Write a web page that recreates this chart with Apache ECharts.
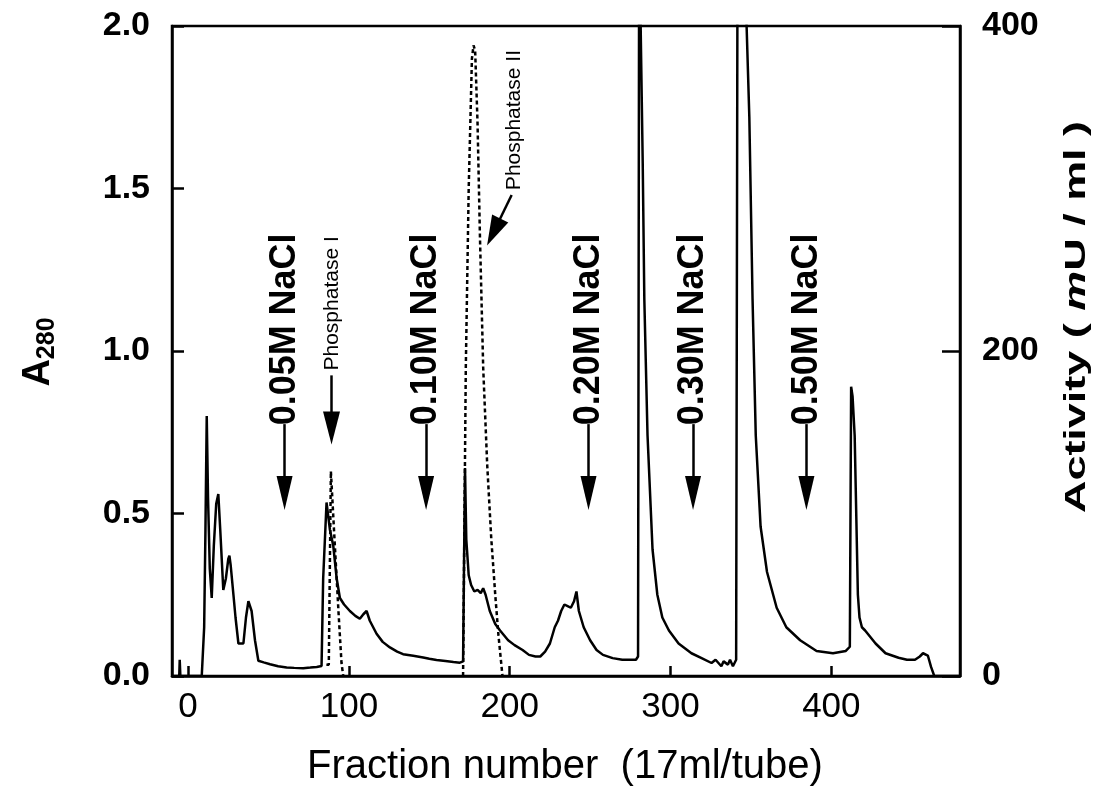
<!DOCTYPE html>
<html>
<head>
<meta charset="utf-8">
<script src="https://cdn.jsdelivr.net/npm/echarts@6/dist/echarts.min.js"></script>
<style>
  html, body { margin: 0; padding: 0; background: #fff; }
  #chart { width: 1104px; height: 791px; }
</style>
</head>
<body>
<div id="chart"></div>
<script>
// Elution profile: fraction number and absorbance at 280 nm
const a280Fraction = [
  -10, -5.5, -5.2, -4.8, 8.5, 10, 10.8, 11.6, 12.4, 13.5, 14.7, 16, 17.5, 18.8, 20, 21.9,
  23.5, 25, 25.7, 26.5, 28.2, 29.5, 31.3, 34.4, 36, 37.5, 39.5, 41.6, 43.7, 47, 51, 56,
  61.3, 66, 71.6, 76, 80, 83, 84, 86.1, 88.2, 90.3, 92.4, 94.4, 97, 100.6, 104, 106.8,
  109, 111, 113, 117.2, 121, 125.5, 130, 133.7, 140, 146.2, 150, 154.5, 160, 165, 169,
  171, 171.6, 172.2, 173, 174.5, 176, 178, 180, 182, 183.5, 185, 187.6, 191, 194, 199,
  203, 208, 212, 216, 219, 222, 225, 228, 230, 232, 234, 236, 238, 240, 241.5, 243, 246,
  250, 254, 258, 264, 270, 275, 278.5, 279.8, 280.5, 282.7, 283.7, 285.7, 288.8, 291.8,
  294.9, 299, 305, 313, 319, 325.5, 328, 331.6, 333, 335.7, 337, 338.8, 340.8, 341.8,
  347, 349, 351, 353, 356, 360, 366, 372, 380.6, 390.8, 401, 409, 411.5, 412.3, 413.2,
  414.5, 416.5, 417.5, 419, 421, 427.5, 433.7, 441.8, 447, 452, 455, 457, 460, 462, 464, 480
];
const a280Value = [
  0, 0, 0.05, 0, 0, 0.15, 0.45, 0.80, 0.55, 0.33, 0.24, 0.40, 0.53, 0.56, 0.45, 0.265,
  0.30, 0.36, 0.37, 0.34, 0.25, 0.18, 0.10, 0.10, 0.18, 0.23, 0.20, 0.11, 0.047, 0.042, 0.036, 0.03,
  0.026, 0.025, 0.024, 0.026, 0.028, 0.031, 0.30, 0.534, 0.45, 0.40, 0.30, 0.24, 0.22, 0.20, 0.185, 0.176,
  0.19, 0.20, 0.17, 0.13, 0.105, 0.088, 0.075, 0.067, 0.062, 0.057, 0.053, 0.049, 0.046, 0.043, 0.041,
  0.045, 0.35, 0.64, 0.42, 0.31, 0.28, 0.26, 0.265, 0.255, 0.27, 0.25, 0.20, 0.16, 0.14, 0.11,
  0.095, 0.08, 0.065, 0.06, 0.06, 0.075, 0.10, 0.15, 0.17, 0.20, 0.22, 0.215, 0.21, 0.23, 0.26, 0.20, 0.15,
  0.11, 0.08, 0.065, 0.055, 0.05, 0.05, 0.05, 0.06, 2.3, 1.58, 1.16, 0.74, 0.39, 0.25,
  0.18, 0.14, 0.10, 0.07, 0.056, 0.04, 0.05, 0.03, 0.045, 0.035, 0.05, 0.03, 0.05, 2.6,
  2.05, 1.72, 1.16, 0.74, 0.46, 0.32, 0.21, 0.15, 0.11, 0.077, 0.07, 0.077, 0.09, 0.89, 0.86,
  0.74, 0.25, 0.18, 0.15, 0.14, 0.10, 0.07, 0.056, 0.05, 0.05, 0.06, 0.07, 0.063, 0.028, 0, 0
];

// Phosphatase activity (mU/ml) across the two active pools
const phosIFraction = [86, 87.5, 88.8, 91, 93.5, 95.4, 96.5, 96.5];
const phosIActivity = [7, 7, 126, 85, 40, 8, 7, 0];
const phosIIFraction = [171, 172.7, 174.5, 176.5, 177.5, 178.5, 180, 181.5, 183.5, 186, 188.5, 191, 193, 195.5];
const phosIIActivity = [0, 190, 300, 380, 388, 385, 340, 270, 190, 130, 85, 50, 25, 0];

// Step-gradient marks: label, fraction where the step starts
const saltSteps = ['0.05M NaCl', '0.10M NaCl', '0.20M NaCl', '0.30M NaCl', '0.50M NaCl'];
const saltStepFraction = [60, 148, 249, 314, 384.5];

// Axis tick values
const fractionTicks = [0, 100, 200, 300, 400];

const FONT = '"Liberation Sans", Arial, Helvetica, sans-serif';
const pairs = (xs, ys) => xs.map((x, i) => [x, ys[i]]);

// Arrow geometry in data units (A280 axis)
const arrowTop = 0.775, arrowHeadCenter = 0.563;
const markLines = saltStepFraction.map(f => [
  { coord: [f, arrowTop], symbol: 'none' },
  { coord: [f, arrowHeadCenter], symbol: 'triangle', symbolSize: [16, 34] }
]);
markLines.push([
  { coord: [89.2, 0.925], symbol: 'none' },
  { coord: [89.2, 0.763], symbol: 'triangle', symbolSize: [17, 33] }
]);
markLines.push([
  { coord: [201.2, 1.48], symbol: 'none' },
  { coord: [190, 1.366], symbol: 'triangle', symbolSize: [18, 30] }
]);

const chart = echarts.init(document.getElementById('chart'), null, { renderer: 'canvas' });

const axisLineStyle = { color: '#000', width: 2.5 };

const option = {
  animation: false,
  backgroundColor: '#fff',
  grid: {
    left: 172, top: 26, right: 144, bottom: 115,
    show: true, borderColor: '#000', borderWidth: 2.5
  },
  xAxis: {
    type: 'value', min: -10, max: 480,
    axisLine: { show: true, onZero: false, lineStyle: axisLineStyle },
    axisTick: { show: true, inside: true, length: 10, lineStyle: axisLineStyle, customValues: fractionTicks },
    axisLabel: {
      customValues: fractionTicks, margin: 14,
      color: '#000', fontFamily: FONT, fontSize: 35
    },
    splitLine: { show: false }
  },
  yAxis: [
    {
      type: 'value', min: 0, max: 2, interval: 0.5, position: 'left',
      axisLine: { show: true, onZero: false, lineStyle: axisLineStyle },
      axisTick: { show: true, inside: true, length: 12, lineStyle: axisLineStyle },
      axisLabel: {
        margin: 22, color: '#000', fontFamily: FONT, fontSize: 34, fontWeight: 'bold',
        formatter: v => v.toFixed(1)
      },
      splitLine: { show: false }
    },
    {
      type: 'value', min: 0, max: 400, interval: 200, position: 'right',
      axisLine: { show: true, onZero: false, lineStyle: axisLineStyle },
      axisTick: { show: true, inside: true, length: 18, lineStyle: axisLineStyle },
      axisLabel: {
        margin: 22, color: '#000', fontFamily: FONT, fontSize: 34, fontWeight: 'bold'
      },
      splitLine: { show: false }
    }
  ],
  series: [
    {
      name: 'A280', type: 'line', xAxisIndex: 0, yAxisIndex: 0,
      data: pairs(a280Fraction, a280Value),
      showSymbol: false, symbol: 'none', clip: true,
      lineStyle: { color: '#000', width: 2.5 },
      markLine: {
        silent: true, animation: false,
        label: { show: false },
        lineStyle: { color: '#000', width: 2.5, type: 'solid' },
        itemStyle: { color: '#000' },
        emphasis: { disabled: true },
        data: markLines
      }
    },
    {
      name: 'Phosphatase I', type: 'line', xAxisIndex: 0, yAxisIndex: 1,
      data: pairs(phosIFraction, phosIActivity),
      showSymbol: false, symbol: 'none',
      lineStyle: { color: '#000', width: 2.5, type: [4, 3] }
    },
    {
      name: 'Phosphatase II', type: 'line', xAxisIndex: 0, yAxisIndex: 1,
      data: pairs(phosIIFraction, phosIIActivity),
      showSymbol: false, symbol: 'none',
      lineStyle: { color: '#000', width: 2.5, type: [4, 3] }
    }
  ]
};

chart.setOption(option);

// Rotated labels placed through the axes' own coordinate conversion
const toPx = (x, y) => chart.convertToPixel({ xAxisIndex: 0, yAxisIndex: 0 }, [x, y]);
const graphics = [];
saltSteps.forEach((label, i) => {
  const p = toPx(saltStepFraction[i], arrowTop);
  graphics.push({
    type: 'text', x: p[0], y: p[1] + 1, rotation: Math.PI / 2, scaleX: 0.97, silent: true,
    style: { text: label, fill: '#000', font: 'bold 37px ' + FONT, align: 'left', verticalAlign: 'middle' }
  });
});
[['Phosphatase I', 89.6, 0.94], ['Phosphatase II', 203.1, 1.495]].forEach(([label, f, a]) => {
  const p = toPx(f, a);
  graphics.push({
    type: 'text', x: p[0], y: p[1], rotation: Math.PI / 2, silent: true,
    style: { text: label, fill: '#000', font: '21px ' + FONT, align: 'left', verticalAlign: 'middle' }
  });
});

// Axis titles
graphics.push({
  type: 'text', x: 39, y: 352, rotation: Math.PI / 2, silent: true,
  style: {
    text: 'A{s|280}', fill: '#000', font: 'bold 38px ' + FONT, align: 'center', verticalAlign: 'middle',
    rich: { s: { fontFamily: FONT, fontWeight: 'bold', fontSize: 25, verticalAlign: 'bottom', padding: [16, 0, 0, 0] } }
  }
});
graphics.push({
  type: 'text', x: 1077, y: 317, rotation: Math.PI / 2, scaleX: 1.55, silent: true,
  style: {
    text: 'Activity ( {i|m}U / ml )', fill: '#000', font: 'bold 29px ' + FONT, align: 'center', verticalAlign: 'middle',
    rich: { i: { fontFamily: FONT, fontWeight: 'bold', fontStyle: 'italic', fontSize: 29 } }
  }
});
graphics.push({
  type: 'text', x: 565, y: 767, silent: true,
  style: { text: 'Fraction number  (17ml/tube)', fill: '#000', font: '40px ' + FONT, align: 'center', verticalAlign: 'middle' }
});

chart.setOption({ graphic: graphics });
</script>
</body>
</html>
